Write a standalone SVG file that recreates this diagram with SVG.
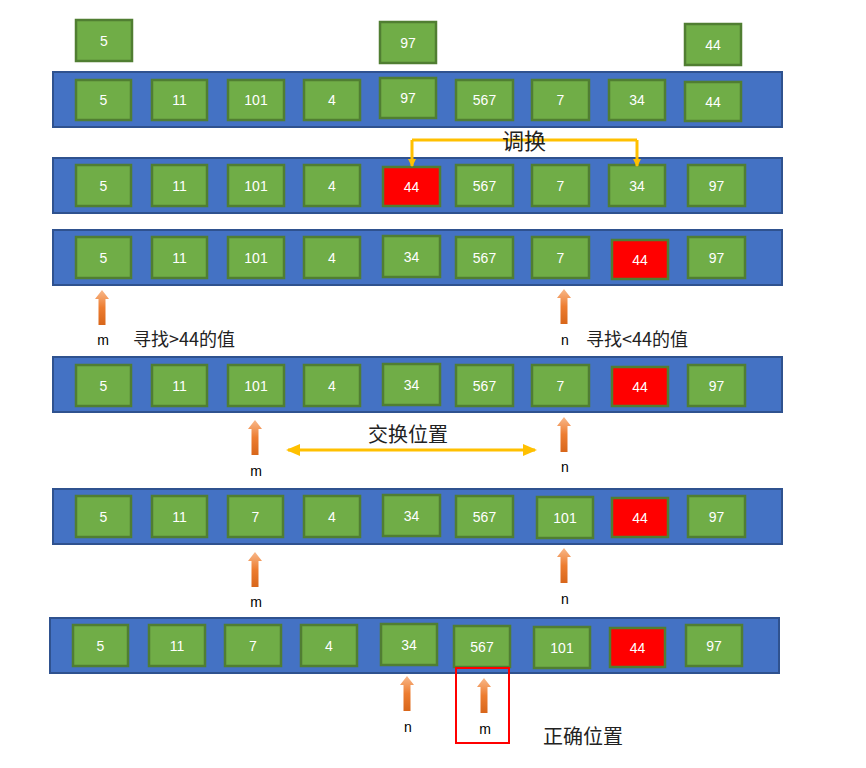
<svg xmlns="http://www.w3.org/2000/svg" xmlns:xlink="http://www.w3.org/1999/xlink" width="866" height="768" viewBox="0 0 866 768">
<style>
.bar{fill:#4472C4;stroke:#2F528F;stroke-width:2}
.b{fill:#70AD47;stroke:#507E32;stroke-width:2.5}
.r{fill:#FF0000;stroke:#507E32;stroke-width:2.5}
.t{fill:#fff;font-family:"Liberation Sans",Arial,sans-serif;font-size:14px;text-anchor:middle}
.lbl{fill:#000;font-family:"Liberation Sans",Arial,sans-serif;font-size:14px;text-anchor:middle}
.cjk{fill:#222;font-family:"Noto Sans CJK SC",sans-serif;font-size:18px}
.up{fill:url(#og)}
.sw{fill:none;stroke:#FFC000;stroke-width:3}
</style>
<defs>
<linearGradient id="og" x1="0" y1="0" x2="0" y2="1">
<stop offset="0" stop-color="#F8B88A"/>
<stop offset="0.5" stop-color="#ED7D31"/>
<stop offset="1" stop-color="#D8661A"/>
</linearGradient>
<path id="ua" d="M0,0 L7,9 L3.5,9 L3.5,35 L-3.5,35 L-3.5,9 L-7,9 Z"/>
<marker id="ah" markerWidth="8" markerHeight="8" refX="7" refY="4" orient="auto" markerUnits="userSpaceOnUse" viewBox="0 0 8 8">
<path d="M0,0 L8,4 L0,8 Z" fill="#FFC000"/>
</marker>
<marker id="ah2" markerWidth="14" markerHeight="12" refX="12" refY="6" orient="auto-start-reverse" markerUnits="userSpaceOnUse" viewBox="0 0 14 12">
<path d="M0,0 L14,6 L0,12 Z" fill="#FFC000"/>
</marker>
</defs>

<!-- top floating boxes -->
<g id="top5"><rect class="b" x="76" y="20" width="56" height="41"/><text class="t" x="104" y="46">5</text></g>
<g id="top97"><rect class="b" x="380" y="22" width="56" height="41"/><text class="t" x="408" y="48">97</text></g>
<g id="top44"><rect class="b" x="685" y="24" width="56" height="41"/><text class="t" x="713" y="50">44</text></g>

<!-- row 1 -->
<g id="row1">
<rect class="bar" x="53" y="72" width="729" height="55"/>
<g id="r1c1"><rect class="b" x="76" y="80" width="55" height="40"/><text class="t" x="103.5" y="105">5</text></g>
<g id="r1c2"><rect class="b" x="152" y="80" width="55" height="40"/><text class="t" x="179.5" y="105">11</text></g>
<g id="r1c3"><rect class="b" x="228" y="80" width="56" height="40"/><text class="t" x="256" y="105">101</text></g>
<g id="r1c4"><rect class="b" x="304" y="80" width="56" height="40"/><text class="t" x="332" y="105">4</text></g>
<g id="r1c5"><rect class="b" x="380" y="78" width="56" height="40"/><text class="t" x="408" y="103">97</text></g>
<g id="r1c6"><rect class="b" x="456" y="80" width="57" height="40"/><text class="t" x="484.5" y="105">567</text></g>
<g id="r1c7"><rect class="b" x="532" y="80" width="57" height="40"/><text class="t" x="560.5" y="105">7</text></g>
<g id="r1c8"><rect class="b" x="609" y="80" width="56" height="40"/><text class="t" x="637" y="105">34</text></g>
<g id="r1c9"><rect class="b" x="685" y="82" width="56" height="39"/><text class="t" x="713" y="107">44</text></g>
</g>

<!-- row 2 -->
<g id="row2">
<rect class="bar" x="53" y="158" width="729" height="55"/>
<g id="r2c1"><rect class="b" x="76" y="165" width="55" height="41"/><text class="t" x="103.5" y="191">5</text></g>
<g id="r2c2"><rect class="b" x="152" y="165" width="55" height="41"/><text class="t" x="179.5" y="191">11</text></g>
<g id="r2c3"><rect class="b" x="228" y="165" width="56" height="41"/><text class="t" x="256" y="191">101</text></g>
<g id="r2c4"><rect class="b" x="304" y="165" width="56" height="41"/><text class="t" x="332" y="191">4</text></g>
<g id="r2c5"><rect class="r" x="383" y="167" width="57" height="39"/><text class="t" x="411.5" y="192">44</text></g>
<g id="r2c6"><rect class="b" x="456" y="165" width="57" height="41"/><text class="t" x="484.5" y="191">567</text></g>
<g id="r2c7"><rect class="b" x="532" y="165" width="57" height="41"/><text class="t" x="560.5" y="191">7</text></g>
<g id="r2c8"><rect class="b" x="609" y="165" width="56" height="41"/><text class="t" x="637" y="191">34</text></g>
<g id="r2c9"><rect class="b" x="688" y="165" width="57" height="41"/><text class="t" x="716.5" y="191">97</text></g>
</g>

<!-- row 3 -->
<g id="row3">
<rect class="bar" x="53" y="230" width="729" height="55"/>
<g id="r3c1"><rect class="b" x="76" y="237" width="55" height="41"/><text class="t" x="103.5" y="263">5</text></g>
<g id="r3c2"><rect class="b" x="152" y="237" width="55" height="41"/><text class="t" x="179.5" y="263">11</text></g>
<g id="r3c3"><rect class="b" x="228" y="237" width="56" height="41"/><text class="t" x="256" y="263">101</text></g>
<g id="r3c4"><rect class="b" x="304" y="237" width="56" height="41"/><text class="t" x="332" y="263">4</text></g>
<g id="r3c5"><rect class="b" x="383" y="236" width="57" height="41"/><text class="t" x="411.5" y="262">34</text></g>
<g id="r3c6"><rect class="b" x="456" y="237" width="57" height="41"/><text class="t" x="484.5" y="263">567</text></g>
<g id="r3c7"><rect class="b" x="532" y="237" width="57" height="41"/><text class="t" x="560.5" y="263">7</text></g>
<g id="r3c8"><rect class="r" x="612" y="240" width="56" height="39"/><text class="t" x="640" y="265">44</text></g>
<g id="r3c9"><rect class="b" x="688" y="237" width="57" height="41"/><text class="t" x="716.5" y="263">97</text></g>
</g>

<!-- row 4 -->
<g id="row4">
<rect class="bar" x="53" y="357" width="729" height="55"/>
<g id="r4c1"><rect class="b" x="76" y="365" width="55" height="41"/><text class="t" x="103.5" y="391">5</text></g>
<g id="r4c2"><rect class="b" x="152" y="365" width="55" height="41"/><text class="t" x="179.5" y="391">11</text></g>
<g id="r4c3"><rect class="b" x="228" y="365" width="56" height="41"/><text class="t" x="256" y="391">101</text></g>
<g id="r4c4"><rect class="b" x="304" y="365" width="56" height="41"/><text class="t" x="332" y="391">4</text></g>
<g id="r4c5"><rect class="b" x="383" y="364" width="57" height="41"/><text class="t" x="411.5" y="390">34</text></g>
<g id="r4c6"><rect class="b" x="456" y="365" width="57" height="41"/><text class="t" x="484.5" y="391">567</text></g>
<g id="r4c7"><rect class="b" x="532" y="365" width="57" height="41"/><text class="t" x="560.5" y="391">7</text></g>
<g id="r4c8"><rect class="r" x="612" y="367" width="56" height="39"/><text class="t" x="640" y="392">44</text></g>
<g id="r4c9"><rect class="b" x="688" y="365" width="57" height="41"/><text class="t" x="716.5" y="391">97</text></g>
</g>

<!-- row 5 -->
<g id="row5">
<rect class="bar" x="53" y="489" width="729" height="55"/>
<g id="r5c1"><rect class="b" x="76" y="496" width="55" height="41"/><text class="t" x="103.5" y="522">5</text></g>
<g id="r5c2"><rect class="b" x="152" y="496" width="55" height="41"/><text class="t" x="179.5" y="522">11</text></g>
<g id="r5c3"><rect class="b" x="228" y="496" width="55" height="41"/><text class="t" x="255.5" y="522">7</text></g>
<g id="r5c4"><rect class="b" x="304" y="496" width="56" height="41"/><text class="t" x="332" y="522">4</text></g>
<g id="r5c5"><rect class="b" x="383" y="495" width="57" height="41"/><text class="t" x="411.5" y="521">34</text></g>
<g id="r5c6"><rect class="b" x="456" y="496" width="57" height="41"/><text class="t" x="484.5" y="522">567</text></g>
<g id="r5c7"><rect class="b" x="537" y="497" width="56" height="41"/><text class="t" x="565" y="523">101</text></g>
<g id="r5c8"><rect class="r" x="612" y="498" width="56" height="39"/><text class="t" x="640" y="523">44</text></g>
<g id="r5c9"><rect class="b" x="688" y="496" width="57" height="41"/><text class="t" x="716.5" y="522">97</text></g>
</g>

<!-- row 6 -->
<g id="row6">
<rect class="bar" x="50" y="618" width="729" height="55"/>
<g id="r6c1"><rect class="b" x="73" y="625" width="55" height="41"/><text class="t" x="100.5" y="651">5</text></g>
<g id="r6c2"><rect class="b" x="149" y="625" width="56" height="41"/><text class="t" x="177" y="651">11</text></g>
<g id="r6c3"><rect class="b" x="225" y="625" width="56" height="41"/><text class="t" x="253" y="651">7</text></g>
<g id="r6c4"><rect class="b" x="301" y="625" width="56" height="41"/><text class="t" x="329" y="651">4</text></g>
<g id="r6c5"><rect class="b" x="381" y="624" width="56" height="41"/><text class="t" x="409" y="650">34</text></g>
<g id="r6c6"><rect class="b" x="454" y="626" width="56" height="41"/><text class="t" x="482" y="652">567</text></g>
<g id="r6c7"><rect class="b" x="534" y="627" width="56" height="41"/><text class="t" x="562" y="653">101</text></g>
<g id="r6c8"><rect class="r" x="610" y="628" width="55" height="39"/><text class="t" x="637.5" y="653">44</text></g>
<g id="r6c9"><rect class="b" x="686" y="625" width="56" height="41"/><text class="t" x="714" y="651">97</text></g>
</g>

<!-- pointer arrows -->
<g id="pointers">
<use href="#ua" class="up" transform="translate(102,290)"/>
<use href="#ua" class="up" transform="translate(564,289)"/>
<use href="#ua" class="up" transform="translate(255,420)"/>
<use href="#ua" class="up" transform="translate(564,417)"/>
<use href="#ua" class="up" transform="translate(255,552)"/>
<use href="#ua" class="up" transform="translate(564,548)"/>
<use href="#ua" class="up" transform="translate(407,676)"/>
<use href="#ua" class="up" transform="translate(484,678)"/>
</g>

<!-- connectors -->
<g id="connectors">
<path class="sw" d="M412,140 L637,140 M412,140 L412,166" marker-end="url(#ah)"/>
<path class="sw" d="M637,140 L637,166" marker-end="url(#ah)"/>
<path class="sw" d="M288,450 L535,450" marker-start="url(#ah2)" marker-end="url(#ah2)"/>
</g>

<!-- highlight box -->
<rect id="mark" x="456" y="668" width="53" height="75" fill="none" stroke="#FF0000" stroke-width="2"/>

<!-- labels -->
<g id="labels">
<text class="lbl" x="103" y="345">m</text>
<text class="lbl" x="565" y="345">n</text>
<text class="lbl" x="256" y="476">m</text>
<text class="lbl" x="565" y="472">n</text>
<text class="lbl" x="256" y="607">m</text>
<text class="lbl" x="565" y="604">n</text>
<text class="lbl" x="408" y="732">n</text>
<text class="lbl" x="485" y="734">m</text>
<text class="cjk" x="524" y="149" style="font-size:22px;text-anchor:middle">调换</text>
<text class="cjk" x="133" y="346">寻找&gt;44的值</text>
<text class="cjk" x="586" y="346">寻找&lt;44的值</text>
<text class="cjk" x="408" y="442" style="font-size:20px;text-anchor:middle">交换位置</text>
<text class="cjk" x="583" y="744" style="font-size:20px;text-anchor:middle">正确位置</text>
</g>
</svg>
